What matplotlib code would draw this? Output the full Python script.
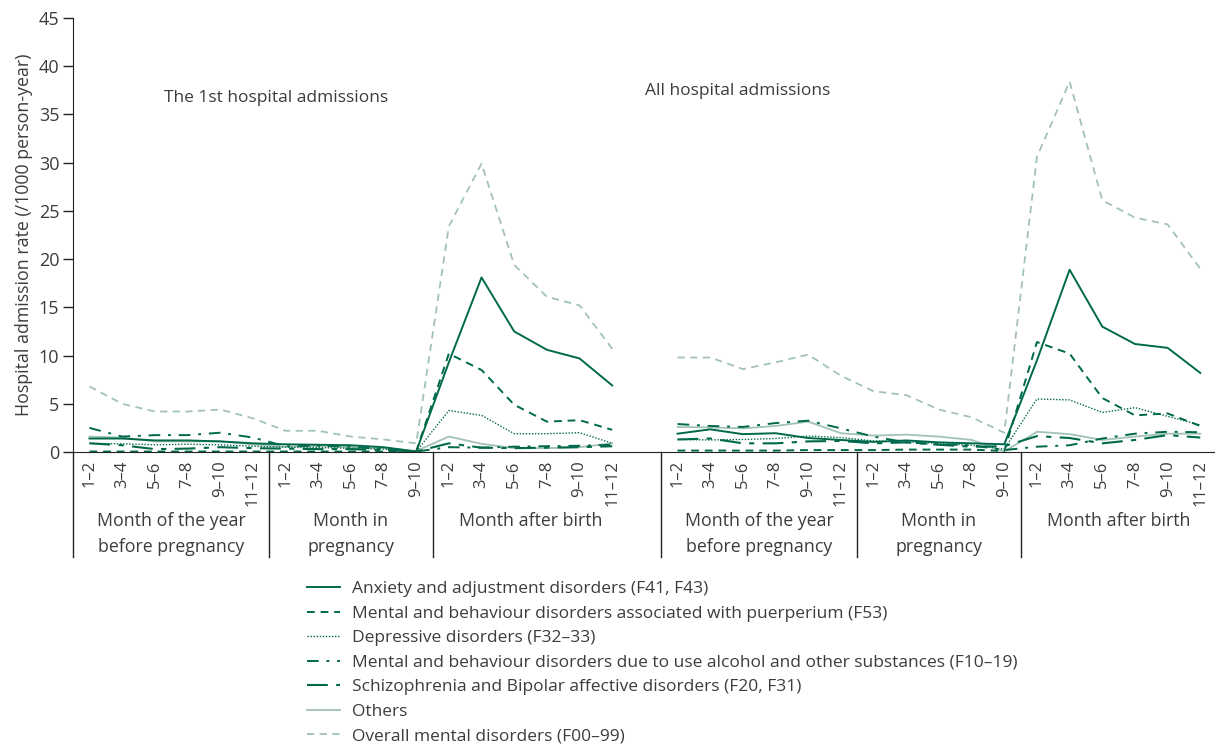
import numpy as np
import matplotlib
matplotlib.use('Agg')
import matplotlib.pyplot as plt
import matplotlib.transforms as mtransforms
from matplotlib.lines import Line2D

plt.rcParams['font.family'] = ['Open Sans', 'DejaVu Sans']

# x 轴标签
months_before = ['1–2', '3–4', '5–6', '7–8', '9–10', '11–12']
months_preg = ['1–2', '3–4', '5–6', '7–8', '9–10']
months_after = ['1–2', '3–4', '5–6', '7–8', '9–10', '11–12']
group_names = ['Month of the year\nbefore pregnancy', 'Month in\npregnancy', 'Month after birth']

# 第一次住院 (左边)
anxiety_1st = [1.4, 1.4, 1.2, 1.2, 1.1, 0.9, 0.8, 0.75, 0.7, 0.5, 0.05, 9.3, 18.1, 12.5, 10.6, 9.7, 6.9]
puerperium_1st = [0.05, 0.05, 0.05, 0.05, 0.05, 0.05, 0.05, 0.05, 0.05, 0.05, 0.05, 10.2, 8.5, 4.9, 3.15, 3.3, 2.3]
depressive_1st = [0.9, 0.85, 0.75, 0.8, 0.75, 0.6, 0.5, 0.45, 0.4, 0.3, 0.05, 4.3, 3.8, 1.9, 1.9, 2.0, 0.9]
alcohol_1st = [2.5, 1.6, 1.75, 1.75, 2.0, 1.5, 0.6, 0.65, 0.55, 0.3, 0.05, 0.5, 0.45, 0.55, 0.6, 0.65, 0.75]
schizo_1st = [0.9, 0.7, 0.3, 0.35, 0.5, 0.4, 0.35, 0.3, 0.3, 0.2, 0.05, 0.9, 0.45, 0.4, 0.45, 0.5, 0.6]
others_1st = [1.6, 1.5, 1.1, 1.1, 1.1, 0.8, 0.55, 0.6, 0.5, 0.4, 0.1, 1.6, 0.85, 0.4, 0.4, 0.5, 0.9]
overall_1st = [6.8, 5.0, 4.2, 4.2, 4.4, 3.5, 2.2, 2.2, 1.6, 1.3, 0.9, 23.4, 29.9, 19.4, 16.1, 15.2, 10.7]

# 所有住院 (右边)
anxiety_all = [1.9, 2.35, 1.85, 1.95, 1.45, 1.25, 1.05, 1.2, 1.0, 0.9, 0.8, 9.5, 18.9, 13.0, 11.2, 10.8, 8.2]
puerperium_all = [0.15, 0.15, 0.15, 0.15, 0.2, 0.2, 0.2, 0.25, 0.25, 0.25, 0.1, 11.4, 10.2, 5.6, 3.8, 4.0, 2.7]
depressive_all = [1.3, 1.25, 1.3, 1.4, 1.65, 1.5, 1.15, 1.05, 0.9, 0.7, 0.3, 5.5, 5.4, 4.1, 4.6, 3.7, 2.8]
alcohol_all = [2.9, 2.7, 2.6, 3.0, 3.25, 2.45, 1.6, 1.0, 0.8, 0.7, 0.2, 0.55, 0.7, 1.4, 1.9, 2.1, 2.05]
schizo_all = [1.3, 1.4, 0.9, 0.9, 1.1, 1.15, 0.9, 1.0, 0.75, 0.55, 0.6, 1.65, 1.45, 0.9, 1.25, 1.75, 1.5]
others_all = [2.6, 2.55, 2.45, 2.7, 3.15, 1.95, 1.7, 1.8, 1.6, 1.25, 0.05, 2.1, 1.85, 1.25, 1.6, 1.9, 1.9]
overall_all = [9.8, 9.8, 8.6, 9.3, 10.1, 7.9, 6.3, 5.9, 4.4, 3.6, 2.0, 30.6, 38.4, 26.1, 24.3, 23.6, 19.0]

labels = ['Anxiety and adjustment disorders (F41, F43)',
          'Mental and behaviour disorders associated with puerperium (F53)',
          'Depressive disorders (F32–33)',
          'Mental and behaviour disorders due to use alcohol and other substances (F10–19)',
          'Schizophrenia and Bipolar affective disorders (F20, F31)',
          'Others',
          'Overall mental disorders (F00–99)']

dark = '#00694b'
light = '#a3c2b6'
txt = '#3c3c3c'
styles = [dict(color=dark, lw=1.4, ls='-'),
          dict(color=dark, lw=1.4, ls=(0, (4, 3))),
          dict(color=dark, lw=1.0, ls=(0, (1, 1.2))),
          dict(color=dark, lw=1.4, ls=(0, (6, 4, 1.5, 4))),
          dict(color=dark, lw=1.5, ls=(0, (10, 4, 2.5, 4))),
          dict(color=light, lw=1.3, ls='-'),
          dict(color=light, lw=1.3, ls=(0, (4, 3)))]

series_1st = [anxiety_1st, puerperium_1st, depressive_1st, alcohol_1st, schizo_1st, others_1st, overall_1st]
series_all = [anxiety_all, puerperium_all, depressive_all, alcohol_all, schizo_all, others_all, overall_all]

fig = plt.figure(figsize=(12.15, 7.47), dpi=100)
ax = fig.add_axes([0.0602, 0.3949, 0.9398, 0.581])

x_left = np.arange(17)
x_right = np.arange(18, 35)
# 画线, 从后往前画让深色在上面
for k in range(6, -1, -1):
    ax.plot(x_left, series_1st[k], **styles[k])
    ax.plot(x_right, series_all[k], **styles[k])

ax.set_xlim(-0.5, 34.45)
ax.set_ylim(0, 45)
ax.set_yticks(range(0, 46, 5))
ax.spines['top'].set_visible(False)
ax.spines['right'].set_visible(False)
ax.spines['left'].set_color('#222222')
ax.spines['bottom'].set_color('#222222')
ax.tick_params(axis='y', length=7, width=1, color='#222222', labelsize=13, labelcolor=txt, pad=3)

ticks = list(x_left) + list(x_right)
tick_labels = (months_before + months_preg + months_after) * 2
ax.set_xticks(ticks)
ax.set_xticklabels(tick_labels, rotation=90, fontsize=12, color=txt)
ax.tick_params(axis='x', length=0, pad=6)

ax.set_ylabel('Hospital admission rate (/1000 person-year)', fontsize=12.8, color=txt, labelpad=4)

# 分隔竖线和组名
trans = mtransforms.blended_transform_factory(ax.transData, ax.transAxes)
for xs in [-0.5, 5.5, 10.5, 17.5, 23.5, 28.5]:
    ax.add_line(Line2D([xs, xs], [0, -0.242], transform=trans, color='#222222', lw=1, clip_on=False))
for off in [0, 18]:
    for cx, name in zip([2.5, 8.0, 13.5], group_names):
        ax.text(cx + off, -0.138, name, transform=trans, ha='center', va='top',
                fontsize=12.8, color=txt, linespacing=1.6)

ax.text(5.7, 36.7, 'The 1st hospital admissions', ha='center', va='center', fontsize=12.5, color=txt)
ax.text(19.85, 37.4, 'All hospital admissions', ha='center', va='center', fontsize=12.5, color=txt)

handles = [Line2D([], [], **s) for s in styles]
fig.legend(handles, labels, loc='upper left', bbox_to_anchor=(0.2527, 0.222), frameon=False,
           fontsize=12.5, handlelength=1.9, handletextpad=0.7, labelspacing=0.48,
           labelcolor=txt, borderaxespad=0, borderpad=0)

plt.savefig('out.png', dpi=100)
